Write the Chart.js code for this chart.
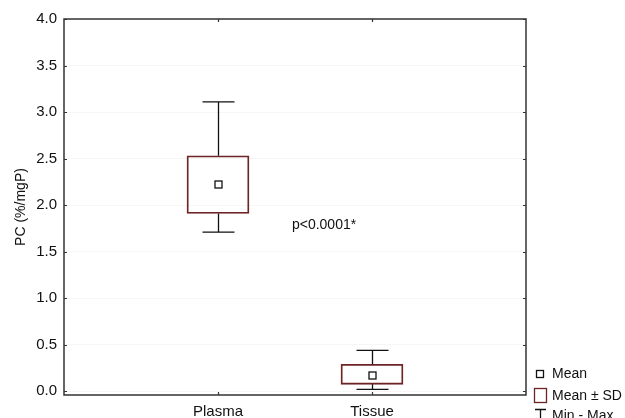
<!DOCTYPE html>
<html>
<head>
<meta charset="utf-8">
<script src="https://cdn.jsdelivr.net/npm/chart.js@4"></script>
<style>
  html, body { margin: 0; padding: 0; background: #fff; }
  #wrap { width: 625px; height: 418px; }
</style>
</head>
<body>
<div id="wrap"><canvas id="graph" width="625" height="418"></canvas></div>
<script>
// groups (blank slots at both ends so the two boxes sit at 1/3 and 2/3)
const groups = ['', 'Plasma', 'Tissue', ''];
const means = [null, 2.23, 0.18, null];
const sdLow = [null, 1.91, 0.075, null];
const sdHigh = [null, 2.53, 0.29, null];
const mins = [null, 1.71, 0.02, null];
const maxs = [null, 3.11, 0.44, null];
const yTicks = [0, 0.5, 1.0, 1.5, 2.0, 2.5, 3.0, 3.5, 4.0];
const pText = 'p<0.0001*';
const pPos = [1.48, 1.78];

const boxColor = '#6e2424';
const font = '"Liberation Sans", Arial, sans-serif';

// whiskers, mean squares, inward ticks, p-value and legend
const extras = {
    id: 'extras',
    afterDatasetsDraw(chart) {
        let ctx = chart.ctx;
        let x = chart.scales.x;
        let y = chart.scales.y;
        let area = chart.chartArea;
        ctx.save();
        ctx.strokeStyle = '#111';
        ctx.lineWidth = 1.3;
        for (let i = 0; i < groups.length; i++) {
            if (means[i] === null) continue;
            let cx = Math.round(x.getPixelForValue(i)) + 0.5;
            let cap = 16;
            ctx.beginPath();
            ctx.moveTo(cx, y.getPixelForValue(sdHigh[i]));
            ctx.lineTo(cx, y.getPixelForValue(maxs[i]));
            ctx.moveTo(cx - cap, y.getPixelForValue(maxs[i]));
            ctx.lineTo(cx + cap, y.getPixelForValue(maxs[i]));
            ctx.moveTo(cx, y.getPixelForValue(sdLow[i]));
            ctx.lineTo(cx, y.getPixelForValue(mins[i]));
            ctx.moveTo(cx - cap, y.getPixelForValue(mins[i]));
            ctx.lineTo(cx + cap, y.getPixelForValue(mins[i]));
            ctx.stroke();
            let my = Math.round(y.getPixelForValue(means[i])) + 0.5;
            ctx.fillStyle = '#fff';
            ctx.fillRect(cx - 3.5, my - 3.5, 7, 7);
            ctx.strokeRect(cx - 3.5, my - 3.5, 7, 7);
        }

        // frame and inward ticks
        ctx.strokeStyle = '#333';
        ctx.lineWidth = 1.5;
        ctx.strokeRect(area.left, area.top, area.right - area.left, area.bottom - area.top);
        ctx.lineWidth = 1.2;
        ctx.beginPath();
        for (let v of yTicks) {
            let py = Math.round(y.getPixelForValue(v)) + 0.5;
            ctx.moveTo(area.left, py); ctx.lineTo(area.left + 3, py);
            ctx.moveTo(area.right, py); ctx.lineTo(area.right - 3, py);
        }
        for (let i = 1; i <= 2; i++) {
            let px = Math.round(x.getPixelForValue(i)) + 0.5;
            ctx.moveTo(px, area.top); ctx.lineTo(px, area.top + 3);
            ctx.moveTo(px, area.bottom); ctx.lineTo(px, area.bottom - 3);
        }
        ctx.stroke();

        // p-value
        ctx.fillStyle = '#111';
        ctx.font = '14px ' + font;
        ctx.textAlign = 'left';
        ctx.textBaseline = 'middle';
        ctx.fillText(pText, x.getPixelForValue(pPos[0]), y.getPixelForValue(pPos[1]));

        // legend
        let lx = area.right + 14;
        ctx.strokeStyle = '#111';
        ctx.lineWidth = 1.3;
        ctx.fillStyle = '#fff';
        ctx.fillRect(lx - 3.5, 370.5, 7, 7);
        ctx.strokeRect(lx - 3.5, 370.5, 7, 7);
        ctx.strokeStyle = boxColor;
        ctx.strokeRect(lx - 5.5, 388.5, 12, 14);
        ctx.strokeStyle = '#111';
        ctx.beginPath();
        ctx.moveTo(lx - 5, 409.5); ctx.lineTo(lx + 6, 409.5);
        ctx.moveTo(lx + 0.5, 409.5); ctx.lineTo(lx + 0.5, 420);
        ctx.stroke();
        ctx.fillStyle = '#111';
        ctx.fillText('Mean', lx + 12, 374);
        ctx.fillText('Mean \u00b1 SD', lx + 12, 396);
        ctx.fillText('Min - Max', lx + 12, 416);
        ctx.restore();
    }
};

let boxes = groups.map((g, i) => sdLow[i] === null ? null : [sdLow[i], sdHigh[i]]);

let config = {
    type: 'bar',
    data: {
        labels: groups,
        datasets: [{
            data: boxes,
            backgroundColor: 'rgba(0,0,0,0)',
            borderColor: boxColor,
            borderWidth: 1.2,
            borderSkipped: false,
            barThickness: 62
        }]
    },
    options: {
        responsive: false,
        animation: false,
        layout: { padding: { top: 19, right: 99, left: 0, bottom: 0 } },
        plugins: { legend: { display: false }, tooltip: { enabled: false } },
        scales: {
            x: {
                offset: false,
                afterFit(axis) { axis.height = 23; },
                grid: { display: false, drawTicks: false },
                border: { display: false },
                ticks: { color: '#111', font: { family: font, size: 15 }, padding: 8, maxRotation: 0, autoSkip: false }
            },
            y: {
                min: -0.04,
                max: 4,
                afterBuildTicks(axis) { axis.ticks = yTicks.map(v => ({ value: v })); },
                afterFit(axis) { axis.width = 64; },
                grid: { color: '#f6f6f6', drawTicks: false },
                border: { display: false },
                ticks: { color: '#111', font: { family: font, size: 15 }, padding: 7, callback: v => v.toFixed(1) },
                title: { display: true, text: 'PC (%/mgP)', color: '#111', font: { family: font, size: 14 }, padding: { top: 13, bottom: 0 } }
            }
        }
    },
    plugins: [extras]
};

let myChart = new Chart(document.getElementById('graph'), config);
</script>
</body>
</html>
